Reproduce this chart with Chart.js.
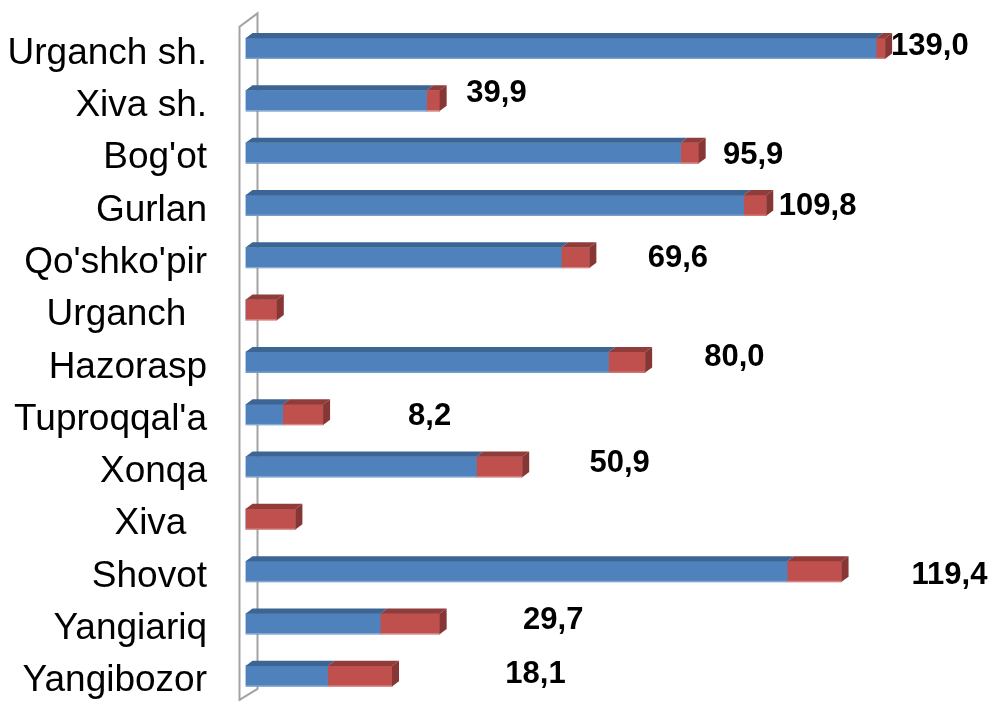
<!DOCTYPE html>
<html>
<head>
<meta charset="utf-8">
<script src="https://cdn.jsdelivr.net/npm/chart.js@4.4.1/dist/chart.umd.min.js"></script>
<style>
  html, body { margin: 0; padding: 0; background: #ffffff; overflow: hidden; }
  #wrap { position: relative; width: 989px; height: 703px; }
</style>
</head>
<body>
<div id="wrap"><canvas id="c"></canvas></div>
<script>
// ---- data ----
const categories = ["Urganch sh.", "Xiva sh.", "Bog'ot", "Gurlan", "Qo'shko'pir", "Urganch  ", "Hazorasp", "Tuproqqal'a", "Xonqa", "Xiva  ", "Shovot", "Yangiariq", "Yangibozor"];
const blueValues = [139.0, 39.9, 95.9, 109.8, 69.6, 0, 80.0, 8.2, 50.9, 0, 119.4, 29.7, 18.1];
const redValues  = [2.0, 2.9, 4.0, 5.0, 6.2, 6.9, 8.1, 8.9, 10.1, 11.0, 12.0, 13.1, 14.2];

// ---- style ----
const BLUE = '#4f81bd', BLUE_TOP = '#3c6594';
const RED = '#c0504d', RED_TOP = '#8f3c3a', RED_SIDE = '#863735';
const DX = 7, DY = 5.2;

const wallPlugin = {
  id: 'wall',
  beforeDatasetsDraw(chart) {
    const { ctx, chartArea: a } = chart;
    const L = a.left - 6, B = L + 18;
    ctx.save();
    ctx.strokeStyle = '#a3a3a3';
    ctx.lineWidth = 2;
    ctx.beginPath();
    ctx.moveTo(L, a.bottom + 2);
    ctx.lineTo(L, a.top + 4.4);
    ctx.lineTo(B, a.top - 9);
    ctx.lineTo(B, a.bottom - 13.4);
    ctx.lineTo(L, a.bottom - 2.4);
    ctx.stroke();
    ctx.restore();
  }
};

const bar3dPlugin = {
  id: 'bar3d',
  afterDatasetsDraw(chart, args, opts) {
    const { ctx } = chart;
    const n = chart.data.labels.length;
    const nds = chart.data.datasets.length;
    ctx.save();
    for (let d = 0; d < nds; d++) {
      const meta = chart.getDatasetMeta(d);
      const topCol = chart.data.datasets[d].topColor;
      meta.data.forEach((el) => {
        const p = el.getProps(['x', 'y', 'base', 'height'], true);
        const x0 = Math.min(p.x, p.base), x1 = Math.max(p.x, p.base);
        if (x1 - x0 < 0.5) return;
        const top = p.y - p.height / 2, bot = p.y + p.height / 2;
        ctx.fillStyle = topCol;
        ctx.beginPath();
        ctx.moveTo(x0, top);
        ctx.lineTo(x0 + DX, top - DY);
        ctx.lineTo(x1 + DX, top - DY);
        ctx.lineTo(x1, top);
        ctx.closePath();
        ctx.fill();
        ctx.fillStyle = 'rgba(255,255,255,0.35)';
        ctx.fillRect(x0, bot - 1, x1 - x0, 1);
      });
    }
    for (let i = 0; i < n; i++) {
      let last = null;
      for (let d = nds - 1; d >= 0; d--) {
        const el = chart.getDatasetMeta(d).data[i];
        const p = el.getProps(['x', 'y', 'base', 'height'], true);
        if (Math.abs(p.x - p.base) >= 0.5) { last = { p, d }; break; }
      }
      if (!last) continue;
      const p = last.p;
      const x1 = Math.max(p.x, p.base);
      const top = p.y - p.height / 2, bot = p.y + p.height / 2;
      ctx.fillStyle = chart.data.datasets[last.d].sideColor;
      ctx.beginPath();
      ctx.moveTo(x1, top);
      ctx.lineTo(x1 + DX, top - DY);
      ctx.lineTo(x1 + DX, bot - DY);
      ctx.lineTo(x1, bot);
      ctx.closePath();
      ctx.fill();

      const v = chart.data.datasets[0].data[i];
      const off = opts.offsets[i];
      if (v > 0 && off) {
        ctx.fillStyle = '#000000';
        ctx.font = 'bold 31px "Liberation Sans", Arial, sans-serif';
        ctx.textAlign = 'left';
        ctx.textBaseline = 'middle';
        ctx.fillText(v.toFixed(1).replace('.', ','), x1 + off[0], p.y + off[1]);
      }
    }
    ctx.restore();
  }
};

new Chart(document.getElementById('c'), {
  type: 'bar',
  data: {
    labels: categories,
    datasets: [
      { label: 'A', data: blueValues, backgroundColor: BLUE, topColor: BLUE_TOP, sideColor: '#3a5f8c', borderWidth: 0, barThickness: 20.5 },
      { label: 'B', data: redValues, backgroundColor: RED, topColor: RED_TOP, sideColor: RED_SIDE, borderWidth: 0, barThickness: 20.5 }
    ]
  },
  options: {
    indexAxis: 'y',
    responsive: true,
    maintainAspectRatio: false,
    animation: false,
    devicePixelRatio: 1,
    layout: { padding: { top: 22.35, bottom: 0.65, left: 0, right: 0 } },
    plugins: {
      legend: { display: false },
      tooltip: { enabled: false },
      bar3d: {
        offsets: [[6, -2.5], [26.7, -7], [24.3, 2], [12.6, 1.3], [58.3, 0.6], null, [59, -5], [85, 1.4], [67.3, -3.6], null, [70, 3.5], [83.4, -3.3], [113.3, -1.4]]
      }
    },
    scales: {
      x: { stacked: true, display: false, min: 0, max: 163.9 },
      y: {
        stacked: true,
        grid: { display: false, drawTicks: false },
        border: { display: false },
        ticks: {
          autoSkip: false,
          color: '#000000',
          padding: 38.5,
          labelOffset: 5,
          font: { family: '"Liberation Sans", Arial, sans-serif', size: 37 }
        },
        afterFit(scale) {
          scale.width = 245.5;
          scale.paddingTop = 0;
          scale.paddingBottom = 0;
        }
      }
    }
  },
  plugins: [wallPlugin, bar3dPlugin]
});
</script>
</body>
</html>
